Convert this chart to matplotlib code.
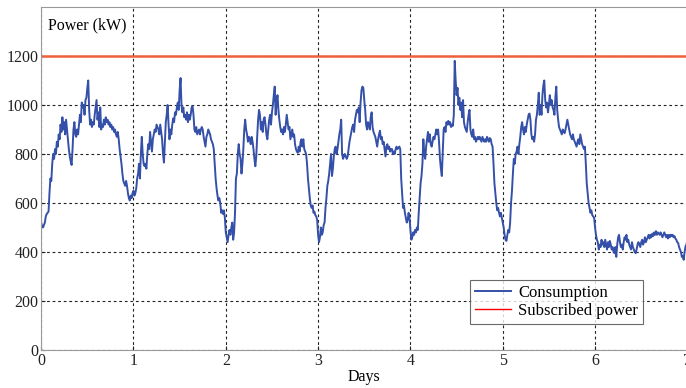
import numpy as np
import matplotlib
matplotlib.use('Agg')
import matplotlib.pyplot as plt

plt.rcParams['font.family'] = ['Liberation Serif', 'DejaVu Serif']

# Consumption (kW), 100 samples per day, days 0..7
samples_per_day = 100
power = [
    520, 505, 500, 510, 520, 545, 555, 560, 565, 640,
    700, 690, 760, 800, 780, 820, 800, 850, 830, 880,
    860, 920, 890, 950, 900, 930, 880, 940, 900, 860,
    820, 790, 770, 755, 820, 900, 930, 880, 870, 900,
    880, 920, 960, 930, 1010, 990, 1000, 960, 1020, 1030,
    1070, 1100, 980, 920, 940, 910, 930, 920, 960, 990,
    1020, 940, 970, 910, 990, 900, 920, 910, 940, 920,
    950, 930, 940, 920, 930, 910, 920, 900, 910, 890,
    900, 880, 870, 890, 860, 820, 790, 760, 720, 690,
    680, 670, 690, 670, 640, 620, 610, 630, 620, 640,
    # day 1
    650, 630, 640, 660, 700, 720, 760, 700, 800, 870,
    800, 760, 750, 760, 740, 800, 840, 820, 890, 850,
    810, 860, 880, 900, 890, 920, 910, 900, 880, 920,
    890, 860, 800, 765, 850, 930, 960, 1000, 920, 860,
    900, 880, 920, 945, 930, 970, 960, 990, 1010, 980,
    1060, 1110, 1000, 970, 990, 950, 960, 940, 970, 930,
    960, 940, 960, 990, 995, 960, 900, 890, 910, 880,
    890, 900, 880, 900, 910, 900, 870, 850, 830, 870,
    880, 900, 890, 880, 860, 850, 840, 820, 760, 700,
    660, 630, 610, 620, 600, 560, 570, 555, 570, 540,
    # day 2
    480, 460, 440, 470, 490, 470, 500, 520, 450, 480,
    560, 700, 720, 800, 840, 800, 780, 720, 760, 820,
    900, 940, 900, 880, 850, 870, 860, 840, 870, 850,
    820, 780, 750, 790, 870, 940, 980, 960, 900, 930,
    890, 940, 950, 920, 880, 860, 900, 940, 960, 920,
    970, 1000, 1040, 1075, 960, 1010, 1040, 980, 940, 910,
    890, 900, 880, 910, 890, 920, 960, 930, 900, 910,
    860, 880, 900, 870, 880, 840, 820, 810, 805, 830,
    810, 850, 860, 830, 860, 820, 810, 800, 760, 700,
    660, 620, 590, 580, 590, 560, 565, 550, 545, 530,
    # day 3
    470, 440, 460, 500, 470, 480, 510, 520, 580, 620,
    670, 690, 720, 760, 800, 710, 740, 790, 820, 830,
    800, 820, 850, 880, 900, 940, 800, 780, 790, 800,
    790, 780, 790, 820, 850, 870, 890, 910, 920, 890,
    940, 960, 980, 970, 990, 930, 1010, 1060, 1075, 1070,
    1020, 980, 920, 900, 930, 920, 900, 950, 970, 910,
    890, 880, 870, 850, 830, 860, 880, 895, 860, 870,
    840, 850, 820, 790, 830, 840, 820, 830, 810, 820,
    820, 800, 810, 800, 820, 830, 820, 825, 830, 820,
    700, 640, 580, 590, 560, 540, 520, 530, 560, 540,
    # day 4
    490, 450, 460, 480, 470, 490, 480, 500, 490, 560,
    620, 680, 710, 760, 860, 800, 780, 830, 860, 890,
    850, 880, 840, 830, 850, 870, 860, 880, 900, 880,
    900, 850, 780, 740, 710, 800, 900, 910, 890, 930,
    920, 935, 920, 930, 910, 920, 915, 960, 1180, 1100,
    1040, 1070, 1000, 1030, 980, 1010, 950, 1020, 930, 910,
    900, 890, 930, 960, 980, 900, 880, 870, 900, 860,
    870, 850, 860, 870, 860, 870, 860, 850, 870, 860,
    850, 860, 850, 870, 860, 850, 865, 860, 840, 830,
    760, 680, 640, 600, 570, 580, 560, 545, 560, 540,
    # day 5
    520, 500, 470, 450, 445, 470, 490, 480, 520, 600,
    650, 720, 780, 760, 800, 810, 830, 800, 840, 870,
    910, 930, 900, 880, 910, 890, 920, 940, 960, 965,
    940, 880, 860, 870, 850, 880, 940, 960, 1000, 1050,
    960, 1000, 960, 1040, 1080, 1100, 1020, 990, 1010, 970,
    1000, 1040, 1000, 1020, 990, 980, 960, 1030, 1075, 980,
    940, 910, 900, 890, 880, 900, 890, 885, 900, 920,
    940, 920, 900, 880, 870, 860, 880, 860, 850, 840,
    830, 850, 860, 840, 880, 860, 840, 830, 820, 830,
    760, 680, 640, 600, 580, 560, 570, 550, 545, 540,
    # day 6
    500, 470, 450, 440, 410, 430, 420, 450, 430, 440,
    420, 450, 430, 410, 440, 420, 445, 430, 410, 420,
    400, 395, 420, 380, 430, 460, 470, 440, 420, 430,
    410, 440, 460, 450, 470, 440, 450, 430, 420, 410,
    440, 420, 410, 400, 395, 410, 430, 440, 430, 420,
    440, 450, 430, 440, 460, 440, 450, 460, 470, 455,
    470, 460, 475, 465, 480, 470, 485, 470, 480, 475,
    470, 480, 470, 460, 470, 480, 470, 460, 470, 455,
    470, 460, 470, 465, 470, 460, 465, 455, 450, 440,
    437, 420, 410, 400, 380, 385, 368, 400, 423, 430,
    450,
]
subscribed_power = 1200

days = np.arange(len(power)) / samples_per_day

fig = plt.figure(figsize=(6.86, 3.88), dpi=100)
ax = fig.add_axes([0.060, 0.098, 0.942, 0.884])

ax.plot(days, power, color='#3550a8', lw=1.4, label='Consumption')
ax.axhline(subscribed_power, color='#f0603c', lw=1.8, label='Subscribed power')

ax.set_xlim(0, 7)
ax.set_ylim(0, 1400)
ax.set_xticks(range(8))
ax.set_yticks(range(0, 1201, 200))
ax.tick_params(direction='in', length=3, labelsize=11.5, colors='#222222', pad=2)
ax.grid(True, color='#222222', linestyle=(0, (2.5, 2.5)), lw=0.8)

for s in ax.spines.values():
    s.set_color('#999999')
ax.spines['right'].set_visible(False)

ax.set_xlabel('Days', fontsize=11.5, labelpad=0)
ax.text(0.01, 0.945, 'Power (kW)', transform=ax.transAxes, fontsize=11.5,
        va='center', ha='left')

# legend: red handle thinner than the plotted line
h, l = ax.get_legend_handles_labels()
leg = ax.legend(h, l, loc='lower right', bbox_to_anchor=(0.944, 0.052),
                fontsize=12, frameon=True, fancybox=False, handlelength=2.2,
                borderpad=0.3, labelspacing=0.1, handletextpad=0.4)
leg.get_frame().set_edgecolor('#444444')
leg.get_frame().set_linewidth(0.8)
leg.legend_handles[1].set_color('red')
leg.legend_handles[1].set_linewidth(1.0)

fig.savefig('out.png', dpi=100)
